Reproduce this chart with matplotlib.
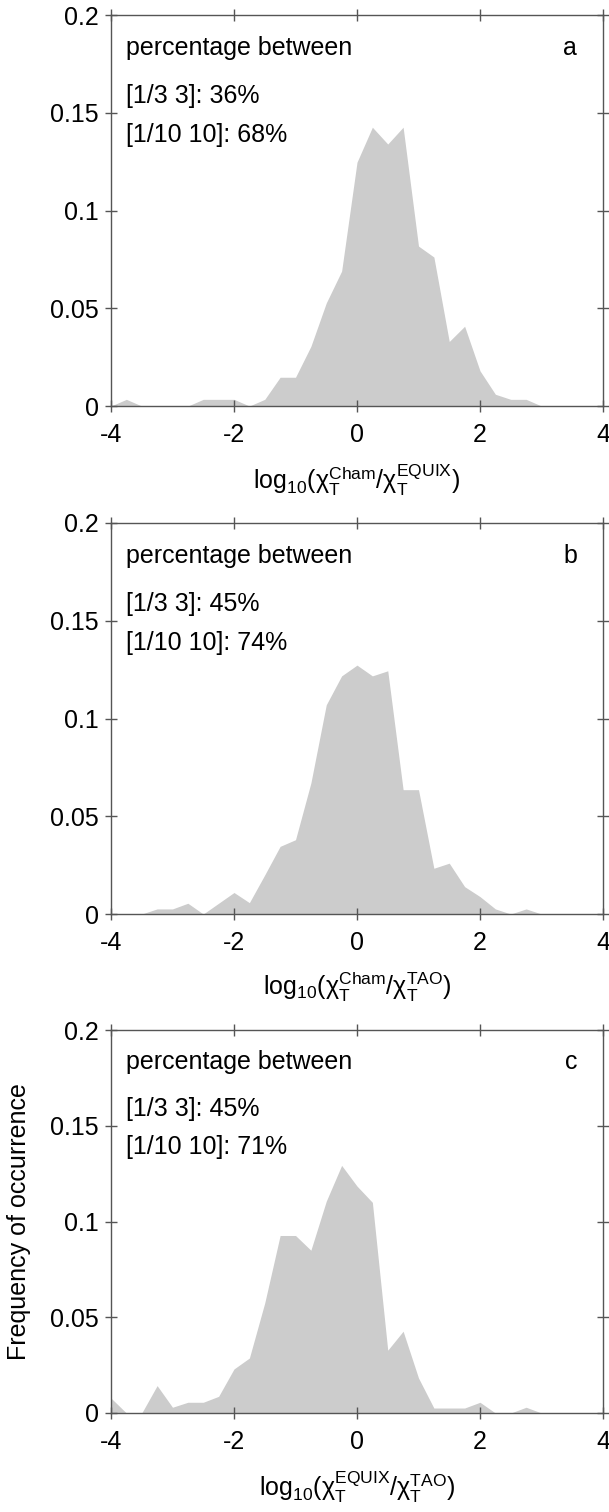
import matplotlib
matplotlib.use('Agg')
import matplotlib.pyplot as plt
import numpy as np

plt.rcParams['font.family'] = ['Liberation Sans', 'DejaVu Sans']
plt.rcParams['mathtext.fontset'] = 'custom'
plt.rcParams['mathtext.rm'] = 'Liberation Sans'
plt.rcParams['mathtext.it'] = 'Liberation Sans:italic'
plt.rcParams['mathtext.sf'] = 'Liberation Sans'
plt.rcParams['axes.unicode_minus'] = False

# bin centres, log10 ratio
bins = np.arange(-4, 4.01, 0.25)

freq_a = [0, 0.0034, 0, 0, 0, 0, 0.0034, 0.0034, 0.0034, 0, 0.0034, 0.0147, 0.0147,
          0.0305, 0.0527, 0.069, 0.1247, 0.1426, 0.134, 0.1426, 0.0818, 0.0762,
          0.033, 0.0408, 0.018, 0.006, 0.0034, 0.0034, 0, 0, 0, 0, 0]
freq_b = [0, 0, 0, 0.0026, 0.0026, 0.0055, 0, 0.0055, 0.011, 0.0058, 0.020, 0.0346,
          0.038, 0.067, 0.107, 0.1218, 0.1273, 0.1218, 0.1244, 0.0636, 0.0636,
          0.0234, 0.026, 0.014, 0.0089, 0.0026, 0, 0.0026, 0, 0, 0, 0, 0]
freq_c = [0.0078, 0, 0, 0.0143, 0.003, 0.0056, 0.0056, 0.0087, 0.023, 0.0287, 0.0575,
          0.0927, 0.0927, 0.085, 0.1106, 0.1293, 0.1185, 0.110, 0.0328, 0.0427,
          0.0183, 0.0026, 0.0026, 0.0026, 0.0056, 0, 0, 0.003, 0, 0, 0, 0, 0]

panels = ['a', 'b', 'c']
pct_3 = ['36%', '45%', '45%']
pct_10 = ['68%', '74%', '71%']
xlabels = [r'log$_{10}$(χ$_\mathrm{T}^\mathrm{Cham}$/χ$_\mathrm{T}^\mathrm{EQUIX}$)',
           r'log$_{10}$(χ$_\mathrm{T}^\mathrm{Cham}$/χ$_\mathrm{T}^\mathrm{TAO}$)',
           r'log$_{10}$(χ$_\mathrm{T}^\mathrm{EQUIX}$/χ$_\mathrm{T}^\mathrm{TAO}$)']
yticks = [0, 0.05, 0.1, 0.15, 0.2]
yticklabels = ['0', '0.05', '0.1', '0.15', '0.2']

fig = plt.figure(figsize=(6.09, 15.12), dpi=100)
# axes boxes in pixels: (top, bottom)
boxes = [(15, 406), (523, 914), (1030, 1413)]
W, H = 609.0, 1512.0
fs = 18

for i, data in enumerate([freq_a, freq_b, freq_c]):
    top, bot = boxes[i]
    ax = fig.add_axes([111 / W, 1 - bot / H, 492 / W, (bot - top) / H])
    ax.fill_between(bins, data, 0, color='#cccccc', linewidth=0)
    ax.set_xlim(-4, 4)
    ax.set_ylim(0, 0.2)
    ax.set_xticks([-4, -2, 0, 2, 4])
    ax.set_yticks(yticks)
    ax.set_yticklabels(yticklabels)
    ax.tick_params(direction='inout', length=8, width=1, color='#555555',
                   top=True, right=True, labelsize=fs)
    ax.tick_params(axis='x', pad=8)
    ax.tick_params(axis='y', pad=5)
    for s in ax.spines.values():
        s.set_color('#555555')
        s.set_linewidth(1)
    ax.text(-3.75, 0.1795, 'percentage between', fontsize=fs, va='baseline')
    ax.text(-3.75, 0.155, '[1/3 3]: ' + pct_3[i], fontsize=fs, va='baseline')
    ax.text(-3.75, 0.135, '[1/10 10]: ' + pct_10[i], fontsize=fs, va='baseline')
    ax.text(3.58, 0.1795, panels[i], fontsize=fs, va='baseline', ha='right')
    ax.set_xlabel(xlabels[i], fontsize=fs, labelpad=11)
    if i == 2:
        ax.set_ylabel('Frequency of occurrence', fontsize=fs)
        ax.yaxis.set_label_coords(-0.163, 0.5)

plt.savefig('out.png', dpi=100)
